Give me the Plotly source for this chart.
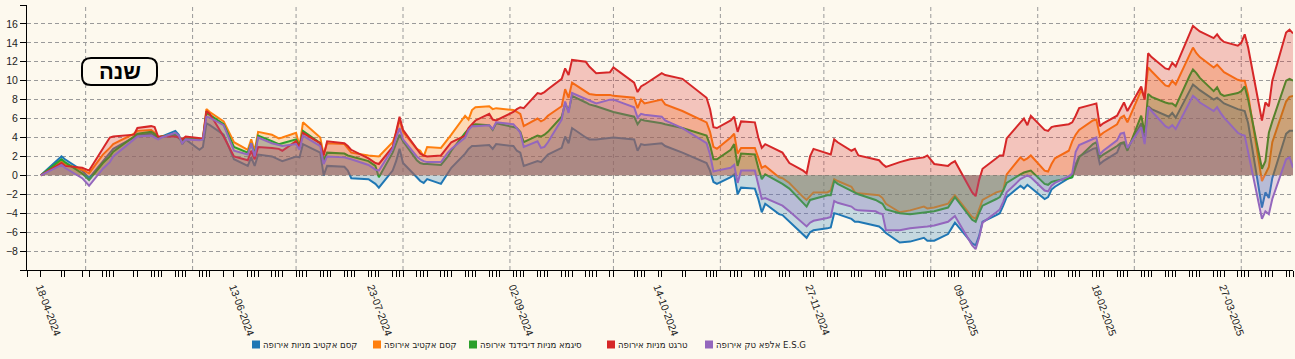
import plotly.graph_objects as go
import pandas as pd

dates = [
    "2024-04-18", "2024-04-24", "2024-04-25", "2024-04-30", "2024-05-02", "2024-05-06", "2024-05-08", "2024-05-09",
    "2024-05-15", "2024-05-16", "2024-05-20", "2024-05-21", "2024-05-22", "2024-05-23", "2024-05-27", "2024-05-28",
    "2024-05-29", "2024-05-30", "2024-06-03", "2024-06-04", "2024-06-05", "2024-06-06", "2024-06-10", "2024-06-13",
    "2024-06-17", "2024-06-18", "2024-06-19", "2024-06-20", "2024-06-24", "2024-06-26", "2024-06-27",
    "2024-07-01", "2024-07-02", "2024-07-03", "2024-07-08", "2024-07-09", "2024-07-10", "2024-07-15", "2024-07-16",
    "2024-07-17", "2024-07-22", "2024-07-24", "2024-07-25", "2024-07-29", "2024-07-30", "2024-07-31", "2024-08-01",
    "2024-08-05", "2024-08-06", "2024-08-07", "2024-08-08", "2024-08-12", "2024-08-14", "2024-08-15", "2024-08-19",
    "2024-08-20", "2024-08-21", "2024-08-22", "2024-08-26", "2024-08-27", "2024-08-28", "2024-09-02", "2024-09-03",
    "2024-09-04", "2024-09-05", "2024-09-09", "2024-09-10", "2024-09-11", "2024-09-12", "2024-09-16", "2024-09-17",
    "2024-09-18", "2024-09-19", "2024-09-23", "2024-09-24", "2024-09-26", "2024-09-30", "2024-10-01", "2024-10-07",
    "2024-10-08", "2024-10-09", "2024-10-10", "2024-10-15", "2024-10-16", "2024-10-21", "2024-10-28", "2024-10-29",
    "2024-10-30", "2024-10-31", "2024-11-04", "2024-11-05", "2024-11-06", "2024-11-07", "2024-11-11", "2024-11-12",
    "2024-11-13", "2024-11-14", "2024-11-18", "2024-11-19", "2024-11-21", "2024-11-25", "2024-11-26", "2024-11-27",
    "2024-11-28", "2024-12-02", "2024-12-03", "2024-12-04", "2024-12-05", "2024-12-09", "2024-12-10", "2024-12-11",
    "2024-12-16", "2024-12-17", "2024-12-18", "2024-12-19", "2024-12-23", "2024-12-26", "2024-12-30", "2024-12-31",
    "2025-01-02", "2025-01-06", "2025-01-07", "2025-01-08", "2025-01-13", "2025-01-14", "2025-01-15", "2025-01-16",
    "2025-01-20", "2025-01-21", "2025-01-22", "2025-01-23", "2025-01-27", "2025-01-28", "2025-01-29", "2025-01-30",
    "2025-02-03", "2025-02-04", "2025-02-05", "2025-02-06", "2025-02-10", "2025-02-11", "2025-02-12", "2025-02-13",
    "2025-02-17", "2025-02-18", "2025-02-19", "2025-02-20", "2025-02-24", "2025-02-25", "2025-02-26", "2025-02-27",
    "2025-03-03", "2025-03-04", "2025-03-05", "2025-03-06", "2025-03-10", "2025-03-11", "2025-03-12", "2025-03-13",
    "2025-03-17", "2025-03-18", "2025-03-19", "2025-03-20", "2025-03-24", "2025-03-25", "2025-03-26", "2025-03-27",
    "2025-03-31", "2025-04-01", "2025-04-02", "2025-04-03", "2025-04-07", "2025-04-08", "2025-04-09", "2025-04-10",
    "2025-04-14", "2025-04-15", "2025-04-16",
]

kesem_active_equity = [
    0, 2.0, 1.7, 0.5, -0.3, 1.5, 2.3, 2.8, 4.0, 4.3, 4.4, 4.2, 3.9, 4.1, 4.7, 4.3, 3.3, 3.8, 2.7, 3.0, 5.5, 5.3, 4.3, 1.7,
    1.0, 1.9, 1.0, 2.2, 2.0, 1.7, 1.5,
    2.0, 1.9, 3.3, 2.4, 0.0, 1.0, 0.9, 0.5, -0.3, -0.4, -0.9, -1.3, 0.5, 1.5, 2.8, 1.3, -0.2, -0.6, -0.8, -0.4, -0.9,
    0.2, 0.8, 2.3, 2.8, 3.1, 3.1, 3.2, 2.8, 3.3, 3.1, 2.6, 2.4, 1.0, 1.5, 1.4, 1.8, 2.2, 2.9, 4.1, 3.4, 5.0, 4.0, 3.8,
    3.8, 4.0, 4.0, 3.8, 2.6, 3.3, 3.2, 3.4, 3.1, 2.4, 1.3, 0.5, -0.7, -0.9, -0.2, 0.1, -2.0, -1.3, -1.4, -2.5, -3.9,
    -3.0, -4.1, -4.2, -4.9, -6.2, -6.6, -6.0, -5.8, -5.6, -5.5, -4.0, -4.1, -4.6, -4.9, -4.9, -5.3, -5.4, -5.7, -6.1,
    -7.1, -7.0, -6.6, -6.9, -6.9, -6.2, -5.6, -5.0, -7.2, -7.4, -6.4, -4.9, -4.2, -4.0, -3.2, -2.3, -1.1, -1.4, -1.0,
    -1.3, -2.5, -2.3, -1.5, -1.2, -0.3, -0.2, 1.2, 2.0, 2.8, 2.9, 1.2, 1.5, 2.4, 3.3, 3.4, 2.8, 5.5, 3.6, 7.3, 7.0,
    6.3, 6.2, 6.6, 6.1, 8.9, 9.6, 9.3, 9.0, 8.0, 8.2, 7.9, 7.6, 7.0, 6.9, 6.8, 5.5, -3.4, -1.8, -2.4, -0.3, 4.4, 4.7,
    4.7,
]

kesem_active = [
    0, 1.5, 1.2, 0.6, 0.2, 2.2, 2.9, 3.3, 4.4, 4.7, 4.8, 4.5, 4.0, 4.1, 4.3, 4.0, 3.8, 4.0, 3.8, 3.9, 7.0, 6.7, 5.7, 3.5,
    2.7, 3.8, 2.6, 4.6, 4.3, 3.9, 4.0,
    4.5, 3.1, 5.6, 4.0, 2.2, 3.4, 3.3, 2.8, 2.4, 2.1, 2.0, 2.0, 3.5, 4.5, 5.9, 4.6, 2.8, 2.6, 2.0, 3.0, 2.9, 3.8, 4.3,
    6.3, 5.9, 6.9, 7.2, 7.3, 7.0, 7.1, 6.9, 6.7, 6.5, 5.2, 6.0, 5.7, 5.9, 6.3, 7.3, 9.1, 8.2, 9.8, 8.8, 8.6, 8.5, 8.5,
    8.4, 8.2, 7.1, 8.0, 7.6, 8.0, 7.5, 6.8, 5.6, 4.6, 3.0, 2.8, 4.0, 4.4, 2.3, 2.9, 2.9, 1.8, 0.8, 1.0, -0.2, -0.3,
    -0.8, -2.3, -2.6, -2.2, -1.8, -1.8, -1.6, -0.4, -0.6, -1.2, -1.8, -1.9, -2.0, -2.1, -2.4, -3.0, -3.9, -3.7, -3.3,
    -3.5, -3.4, -3.0, -2.5, -2.1, -4.4, -4.6, -3.6, -2.6, -1.8, -1.7, -1.6, 0.1, 1.9, 1.6, 1.8, 2.1, 0.5, 0.4, 1.2,
    1.8, 2.6, 3.6, 4.3, 4.8, 5.8, 5.9, 4.2, 4.5, 5.4, 6.1, 6.3, 5.6, 9.0, 8.2, 11.4, 11.0, 9.5, 9.4, 10.0, 9.6, 12.8,
    13.5, 12.9, 12.5, 11.4, 11.7, 11.3, 10.9, 10.1, 10.0, 10.0, 8.5, -0.6, 0.1, 0.9, 3.5, 7.8, 8.3, 8.4,
]

sigma_dividend = [
    0, 1.7, 1.4, 0.2, -0.5, 1.3, 2.0, 2.5, 4.1, 4.4, 4.6, 4.4, 4.0, 4.1, 4.3, 4.0, 3.6, 3.9, 3.8, 3.8, 6.6, 6.4, 5.4, 3.0,
    2.4, 3.4, 2.2, 4.2, 3.6, 3.3, 3.4,
    3.8, 3.1, 4.7, 3.4, 1.5, 2.4, 2.3, 2.1, 2.0, 1.5, 1.0, -0.2, 2.4, 3.4, 4.3, 3.6, 1.6, 1.3, 1.2, 1.2, 1.1, 2.0, 2.6,
    4.5, 4.9, 5.3, 5.4, 5.3, 4.8, 5.5, 5.1, 5.0, 4.6, 3.5, 4.2, 4.1, 4.3, 4.6, 6.2, 7.6, 6.8, 8.4, 7.7, 7.5, 7.3, 6.8,
    6.7, 6.2, 5.4, 5.9, 5.8, 5.5, 5.4, 5.0, 4.2, 3.2, 1.7, 1.7, 2.7, 3.3, 1.0, 2.3, 2.2, 0.8, -0.4, 0.1, -0.7, -0.9,
    -1.4, -3.0, -3.3, -2.6, -2.5, -2.1, -2.1, -0.6, -0.9, -1.6, -1.8, -2.0, -2.6, -2.8, -3.0, -3.6, -4.0, -4.1, -3.9,
    -3.9, -3.8, -3.4, -2.8, -2.3, -4.7, -4.9, -4.0, -3.2, -2.5, -2.3, -1.6, -0.8, 0.1, 0.3, 0.4, 0.5, -0.9, -1.0, -0.7,
    -0.6, -0.3, -0.2, 0.9, 1.9, 3.3, 3.5, 1.9, 2.2, 3.1, 3.4, 3.5, 2.6, 6.3, 4.5, 8.6, 8.3, 7.7, 7.6, 7.6, 7.3, 10.5,
    11.2, 10.8, 10.3, 8.9, 9.3, 8.6, 8.4, 8.7, 8.9, 9.4, 8.0, 0.7, 1.5, 4.5, 5.7, 10.0, 10.2, 10.0,
]

target_equity = [
    0, 1.3, 1.0, 0.8, 0.5, 2.8, 4.0, 4.1, 4.3, 5.0, 5.2, 5.1, 4.1, 4.1, 4.1, 4.0, 3.8, 4.1, 3.9, 3.9, 6.8, 6.5, 4.1, 2.0,
    1.6, 2.6, 1.7, 3.0, 2.9, 2.8, 2.6,
    3.6, 3.0, 4.5, 3.4, 2.1, 3.6, 3.4, 3.1, 2.7, 1.8, 1.3, 1.2, 3.0, 4.6, 6.2, 4.8, 2.7, 2.3, 2.1, 2.0, 2.1, 3.1, 3.5,
    4.2, 5.0, 5.4, 5.8, 6.5, 5.9, 5.8, 6.7, 7.0, 7.2, 7.1, 8.7, 8.6, 8.8, 9.1, 10.2, 11.3, 10.6, 12.2, 12.0, 11.5, 10.8,
    10.9, 11.4, 9.8, 8.8, 9.4, 9.6, 10.8, 10.6, 10.2, 8.2, 7.0, 5.1, 5.0, 5.8, 6.2, 4.6, 5.7, 5.6, 4.0, 2.9, 3.3, 2.6,
    2.4, 1.3, 0.5, 0.2, 2.0, 2.8, 2.3, 2.2, 3.8, 3.5, 2.6, 2.8, 2.1, 1.7, 1.6, 1.2, 0.9, 1.4, 1.7, 1.9, 2.1, 1.2, 1.0,
    1.3, 1.5, -1.8, -2.2, -0.5, 0.7, 1.8, 2.1, 2.1, 3.9, 5.6, 6.0, 5.3, 6.3, 4.8, 4.7, 5.1, 5.2, 5.4, 5.6, 6.3, 7.1,
    7.5, 7.6, 5.2, 5.5, 6.3, 7.0, 7.7, 6.8, 9.4, 8.0, 12.9, 12.5, 11.3, 11.2, 11.9, 11.5, 15.0, 15.8, 15.5, 15.2, 14.5,
    14.9, 14.4, 14.1, 13.7, 14.0, 14.9, 13.5, 5.8, 7.7, 7.3, 10.0, 15.1, 15.4, 15.0,
]

alpha_tech_esg = [
    0, 1.1, 0.8, -0.3, -1.1, 0.7, 1.4, 2.0, 3.8, 4.1, 4.2, 4.0, 3.8, 4.0, 4.5, 4.2, 3.4, 3.8, 3.7, 3.8, 6.2, 6.1, 5.3,
    2.6, 2.2, 3.4, 2.0, 4.0, 3.4, 3.2, 3.1,
    3.3, 2.7, 4.2, 3.1, 1.2, 2.0, 1.9, 1.8, 1.7, 1.1, 0.6, 0.5, 2.8, 4.0, 5.0, 3.8, 2.0, 1.7, 1.5, 1.4, 1.4, 2.4, 2.8,
    4.0, 4.8, 5.2, 5.2, 5.3, 4.9, 5.6, 5.4, 5.0, 4.5, 3.0, 3.6, 2.9, 3.0, 3.5, 5.9, 7.8, 6.6, 8.7, 8.1, 7.9, 7.6, 8.0,
    8.0, 7.2, 6.1, 6.5, 6.4, 6.2, 5.8, 5.0, 3.4, 2.2, 0.4, 0.5, 0.8, 1.1, -0.8, 0.5, 0.5, -1.0, -2.5, -2.4, -3.1, -3.2,
    -3.8, -5.1, -5.4, -5.0, -4.8, -4.5, -4.4, -2.7, -2.9, -3.3, -3.6, -3.7, -3.8, -4.0, -4.1, -5.8, -5.8, -5.6, -5.5,
    -5.4, -5.3, -4.9, -4.6, -4.3, -7.4, -7.8, -6.6, -5.0, -3.9, -3.6, -2.8, -1.8, -0.4, -0.2, 0.0, -0.2, -1.6, -1.7,
    -1.1, -0.8, -0.1, 0.2, 2.5, 3.2, 3.9, 4.0, 2.2, 2.6, 3.7, 4.4, 4.5, 2.9, 5.1, 3.3, 7.2, 6.8, 5.2, 5.0, 5.3, 4.9,
    7.7, 8.4, 8.1, 7.7, 6.8, 7.2, 6.6, 6.1, 4.5, 4.3, 4.2, 2.5, -4.6, -3.8, -4.1, -2.5, 1.7, 1.9, 0.8,
]

series_names = [
    "קסם אקטיב מניות אירופה",
    "קסם אקטיב אירופה",
    "סיגמא מניות דיבידנד אירופה",
    "טרגט מניות אירופה",
    "אלפא טק אירופה E.S.G",
]
series_values = [kesem_active_equity, kesem_active, sigma_dividend, target_equity, alpha_tech_esg]
series_rgb = [(31, 119, 180), (255, 127, 14), (44, 160, 44), (214, 39, 40), (148, 103, 189)]

label_dates = ["2024-04-18", "2024-06-13", "2024-07-23", "2024-09-02", "2024-10-14",
               "2024-11-27", "2025-01-09", "2025-02-18", "2025-03-27"]
label_texts = ["18-04-2024", "13-06-2024", "23-07-2024", "02-09-2024", "14-10-2024",
               "27-11-2024", "09-01-2025", "18-02-2025", "27-03-2025"]
y_ticks = list(range(-8, 17, 2))

x_start, x_end = "2024-04-14", "2025-04-16"
holidays = ["2024-04-22", "2024-04-23", "2024-04-29", "2024-05-01", "2024-05-13", "2024-05-14",
            "2024-06-11", "2024-06-12", "2024-10-02", "2024-10-03", "2024-10-16", "2024-10-17",
            "2024-10-23", "2024-10-24"]
trading_days = pd.bdate_range("2024-04-18", x_end, freq="C", weekmask="Mon Tue Wed Thu",
                              holidays=holidays)
tick_days = [x_start] + [d.strftime("%Y-%m-%d") for d in trading_days]
month_starts = [d.strftime("%Y-%m-%d") for d in pd.date_range("2024-05-01", "2025-04-01", freq="MS")]

BG = "#fdf9ee"
GRID = "#9a9a9a"
W, H = 1295, 359
L, R, T, B = 27, 1293, 5, 270


def px(x):
    return (x - L) / (R - L)


def py(y):
    return (B - y) / (B - T)


fig = go.Figure()
for name, vals, (r, g, b) in zip(series_names, series_values, series_rgb):
    fig.add_trace(go.Scatter(
        x=dates, y=vals, name=name, mode="lines",
        line=dict(color=f"rgb({r},{g},{b})", width=2),
        fill="tozeroy", fillcolor=f"rgba({r},{g},{b},0.25)",
        showlegend=False, hoverinfo="skip",
    ))

shapes = []
for m in month_starts:
    shapes.append(dict(type="line", xref="x", yref="paper", x0=m, x1=m, y0=0, y1=1,
                       line=dict(color=GRID, width=1, dash="4px,3px"), layer="below"))


def rounded(x0, y0, x1, y1, r):
    return (f"M {px(x0 + r)},{py(y0)} L {px(x1 - r)},{py(y0)} "
            f"Q {px(x1)},{py(y0)} {px(x1)},{py(y0 + r)} L {px(x1)},{py(y1 - r)} "
            f"Q {px(x1)},{py(y1)} {px(x1 - r)},{py(y1)} L {px(x0 + r)},{py(y1)} "
            f"Q {px(x0)},{py(y1)} {px(x0)},{py(y1 - r)} L {px(x0)},{py(y0 + r)} "
            f"Q {px(x0)},{py(y0)} {px(x0 + r)},{py(y0)} Z")


shapes.append(dict(type="path", xref="paper", yref="paper", path=rounded(82, 58, 157, 85, 9),
                   line=dict(color="black", width=2), fillcolor=BG, layer="above"))

annotations = [dict(xref="paper", yref="paper", x=px(119.5), y=py(71.5), text="<b>שנה</b>",
                    showarrow=False, xanchor="center", yanchor="middle",
                    font=dict(family="Arial", size=22, color="black"))]

legend_sq_x = [252, 373, 469, 607, 705]
for sx, name, (r, g, b) in zip(legend_sq_x, series_names, series_rgb):
    shapes.append(dict(type="rect", xref="paper", yref="paper", x0=px(sx), x1=px(sx + 8),
                       y0=py(348.5), y1=py(340.5), fillcolor=f"rgb({r},{g},{b})",
                       line=dict(width=0)))
    annotations.append(dict(xref="paper", yref="paper", x=px(sx + 9), y=py(344.5), text=name,
                            showarrow=False, xanchor="left", yanchor="middle",
                            font=dict(family="DejaVu Sans Condensed", size=9.5, color="#222")))

fig.update_layout(
    width=W, height=H,
    margin=dict(l=L, r=W - R, t=T, b=H - B),
    paper_bgcolor=BG, plot_bgcolor=BG,
    shapes=shapes, annotations=annotations,
    showlegend=False,
    xaxis=dict(
        type="date", range=[x_start, x_end], automargin=False,
        tickmode="array", tickvals=label_dates, ticktext=label_texts, tickangle=70,
        ticks="outside", ticklen=6, tickcolor="black", tickwidth=1,
        tickfont=dict(family="Arial", size=10.5, color="#222"),
        showgrid=False, zeroline=False,
        showline=True, linecolor="black", linewidth=1,
        minor=dict(tickmode="array", tickvals=tick_days, ticks="outside", ticklen=6,
                   tickcolor="black", tickwidth=1, showgrid=False),
    ),
    yaxis=dict(
        range=[-10, 18], automargin=False, tickmode="array", tickvals=y_ticks,
        ticks="outside", ticklen=6, tickcolor="black", tickwidth=1,
        tickfont=dict(family="Arial", size=10.5, color="#222"),
        showgrid=True, gridcolor=GRID, gridwidth=1, griddash="4px,3px",
        zeroline=False, showline=True, linecolor="black", linewidth=1,
        minor=dict(tickmode="array", tickvals=[-10, 18], ticks="outside", ticklen=6,
                   tickcolor="black", tickwidth=1, showgrid=False),
    ),
)

fig.write_html(
    "out.html",
    config={"displayModeBar": False},
    post_script="document.body.style.margin='0';document.body.style.background='" + BG + "';",
)
